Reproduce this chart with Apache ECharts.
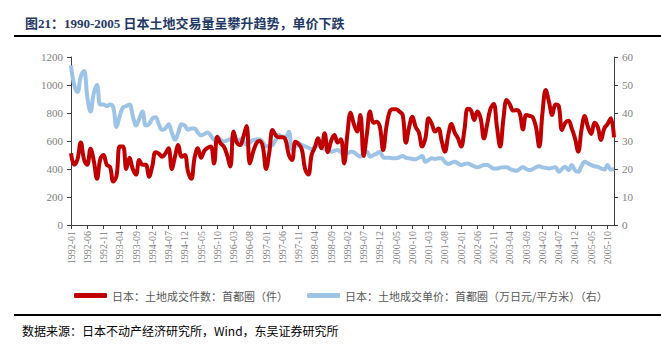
<!DOCTYPE html>
<html>
<head>
<meta charset="utf-8">
<script src="https://cdn.jsdelivr.net/npm/echarts@6/dist/echarts.min.js"></script>
<style>html,body{margin:0;padding:0;background:#fff;}#c{width:661px;height:348px;}</style>
</head>
<body>
<div id="c"></div>
<script>
// Monthly categories 1992-01 .. 2005-12
var categories = [];
for (var y = 1992; y <= 2005; y++) { for (var m = 1; m <= 12; m++) { categories.push(y + '-' + (m < 10 ? '0' + m : m)); } }

var seriesNames = ['日本：土地成交件数：首都圈（件）', '日本：土地成交单价：首都圈（万日元/平方米）（右）'];

// 土地成交件数 (件)
var volume = [
512,430,470,590,470,430,545,460,330,470,500,430,415,310,350,560,560,400,480,400,
360,464,430,430,345,420,520,510,488,510,548,400,490,571,488,500,380,330,480,548,
480,530,550,560,440,631,583,560,500,417,667,590,571,630,707,440,520,583,600,560,
400,520,679,640,626,626,607,500,464,595,578,540,400,360,500,555,619,548,655,520,
600,643,590,612,440,650,802,720,667,786,493,650,810,730,738,700,536,700,810,826,
826,810,786,588,700,774,700,660,560,620,762,720,667,690,600,524,640,721,660,620,
560,680,830,820,750,810,760,619,720,830,864,700,560,760,893,860,817,821,800,683,
786,780,770,700,560,800,964,880,786,860,850,679,730,745,690,620,524,680,779,700,
650,731,700,607,690,720,762,626
];

// 土地成交单价 (万日元/平方米)
var price = [
57,50,47.5,53,55,46,40.5,47,50,43,43,42.5,43,42,35,39,42,42.5,43,39,
35.5,38,40.5,35.5,36,38,38.5,36,34,34.5,36,33,30.5,33,36,35.5,34,34.5,34.5,33,
32,32.5,33,32,30.4,31.4,30.5,29.8,30.2,30.6,30.2,29.8,30.6,29.8,28.6,29.5,30.4,30.5,30.6,29.5,
28.1,28.3,28.6,30.5,32.1,31.5,31.5,33.3,27,28,29.2,28.6,28.1,27.6,27.1,27.8,28.6,27.6,27,26.5,
26.2,26.5,26.8,26,25,25.5,26.2,26,25,24.4,25.5,26.2,24.4,25,25.5,26.2,24.2,24,24,23.8,
23.8,24.2,24.6,24,23.8,23.6,23.5,24,24.6,22.6,23.2,23.8,23.6,23.8,23.8,22.5,21.8,22.2,22.6,22,
21.4,21.8,22,21.5,21,20.6,21,21.4,21.4,20.8,20.2,20.2,20.5,20.6,20.6,20,19.6,19.4,20,20.6,
20,19.6,20,20.6,21,20.6,20.4,20.2,20.4,20.6,19,20,20.8,19.6,21.4,19.5,19,21,22.6,22,
21.4,21,20.8,20.2,19.8,21.4,19.8,20
];

var leftTicks = [0, 1200, 200];
var rightTicks = [0, 60, 10];

var titleText = '图21：1990-2005 日本土地交易量呈攀升趋势，单价下跌';
var sourceText = '数据来源：日本不动产经济研究所，Wind，东吴证券研究所';

var chart = echarts.init(document.getElementById('c'), null, {renderer: 'svg'});
var serif = '"Liberation Serif","Noto Sans CJK SC",serif';
var cjk = '"Noto Sans CJK SC",sans-serif';
var plain = function (v) { return String(v); };
var axisLabelStyle = {color: '#7f7f7f', fontFamily: serif, fontSize: 11, formatter: plain};

chart.setOption({
  animation: false,
  title: {
    text: titleText, left: 20, top: 12,
    textStyle: {color: '#1F3864', fontSize: 13, fontWeight: 'bold', fontFamily: serif}
  },
  graphic: [
    {type: 'rect', shape: {x: 14, y: 35, width: 647, height: 2}, style: {fill: '#000'}},
    {type: 'rect', shape: {x: 14, y: 314, width: 647, height: 2}, style: {fill: '#000'}},
    {type: 'text', left: 22, top: 324, style: {text: sourceText, fill: '#000', font: '12px "Noto Sans CJK SC", sans-serif'}}
  ],
  legend: {
    left: 69, top: 285, itemWidth: 33, itemHeight: 5, itemGap: 19, icon: 'roundRect',
    textStyle: {color: '#595959', fontSize: 11, fontFamily: cjk},
    data: seriesNames
  },
  grid: {left: 71, right: 47, top: 57, bottom: 123, containLabel: false},
  xAxis: {
    type: 'category', data: categories, boundaryGap: false,
    axisLine: {lineStyle: {color: '#404040', width: 1}},
    axisTick: {interval: 4, length: 4, lineStyle: {color: '#404040'}},
    axisLabel: {interval: 4, rotate: 90, margin: 6, fontSize: 10, color: '#7f7f7f', fontFamily: serif}
  },
  yAxis: [
    {type: 'value', min: leftTicks[0], max: leftTicks[1], interval: leftTicks[2],
     axisLine: {show: true, lineStyle: {color: '#404040'}},
     axisTick: {show: true, length: 4, lineStyle: {color: '#404040'}},
     splitLine: {show: false}, axisLabel: Object.assign({margin: 8}, axisLabelStyle)},
    {type: 'value', min: rightTicks[0], max: rightTicks[1], interval: rightTicks[2], position: 'right',
     axisLine: {show: true, lineStyle: {color: '#404040'}},
     axisTick: {show: true, length: 4, lineStyle: {color: '#404040'}},
     splitLine: {show: false}, axisLabel: Object.assign({margin: 8}, axisLabelStyle)}
  ],
  series: [
    {name: seriesNames[0], type: 'line', data: volume, yAxisIndex: 0, smooth: 0.4, showSymbol: false,
     lineStyle: {color: '#C00000', width: 4}, itemStyle: {color: '#C00000'}, z: 3},
    {name: seriesNames[1], type: 'line', data: price, yAxisIndex: 1, smooth: 0.4, showSymbol: false,
     lineStyle: {color: '#9DC3E6', width: 4}, itemStyle: {color: '#9DC3E6'}, z: 2}
  ]
});
</script>
</body>
</html>
